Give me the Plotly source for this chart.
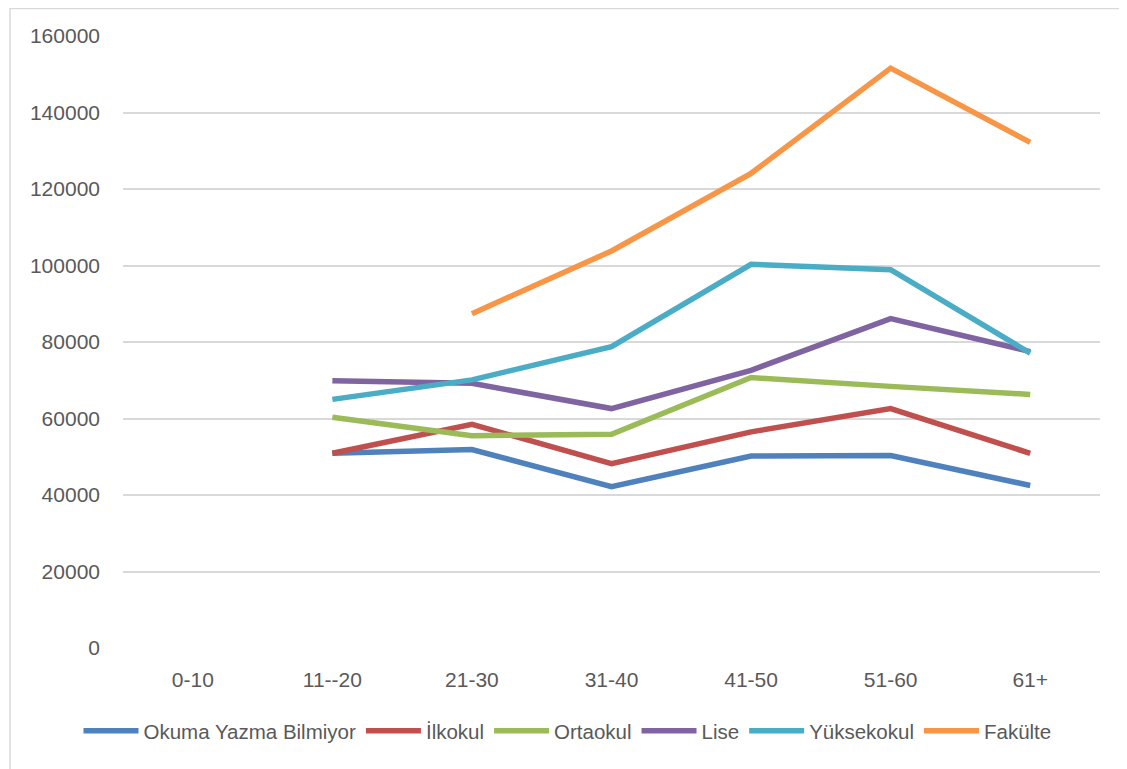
import plotly.graph_objects as go

age_groups = ["0-10", "11--20", "21-30", "31-40", "41-50", "51-60", "61+"]

okuma_yazma = [None, 50900, 51900, 42200, 50200, 50300, 42500]
ilkokul = [None, 50900, 58500, 48200, 56500, 62600, 50900]
ortaokul = [None, 60300, 55500, 55900, 70700, 68400, 66300]
lise = [None, 69900, 69200, 62600, 72600, 86100, 77500]
yuksekokul = [None, 65000, 70100, 78800, 100300, 98900, 77100]
fakulte = [None, None, 87400, 103800, 124100, 151600, 132200]

series_names = ["Okuma Yazma Bilmiyor", "İlkokul", "Ortaokul", "Lise", "Yüksekokul", "Fakülte"]
series_values = [okuma_yazma, ilkokul, ortaokul, lise, yuksekokul, fakulte]
colors = ["#4F81BD", "#C0504D", "#9BBB59", "#8064A2", "#4BACC6", "#F79646"]

# page has an 8px body margin, so the figure is a bit smaller than the window
W, H = 1119, 761
L, R, T, B = 115, 27, 28, 121
pw, ph = W - L - R, H - T - B

fig = go.Figure()
for name, vals, col in zip(series_names, series_values, colors):
    fig.add_trace(go.Scatter(x=age_groups, y=vals, name=name, mode="lines",
                             line=dict(color=col, width=5.5), connectgaps=False))

font_fam = "Liberation Sans, Arial, sans-serif"
fig.update_layout(
    width=W, height=H,
    margin=dict(l=L, r=R, t=T, b=B),
    paper_bgcolor="white", plot_bgcolor="white",
    font=dict(family=font_fam, size=21, color="#595959"),
    showlegend=True,
    legend=dict(orientation="h", xref="container", x=0.5, xanchor="center",
                yref="container", y=0.05, yanchor="middle",
                font=dict(size=20.5, color="#595959"), itemwidth=55,
                traceorder="normal", bgcolor="rgba(0,0,0,0)"),
    xaxis=dict(type="category", range=[-0.5, 6.5], showgrid=False, zeroline=False,
               showline=False, ticks="", tickfont=dict(size=21), ticklabelstandoff=17),
    yaxis=dict(range=[0, 160000], dtick=20000, showgrid=True, gridcolor="#D9D9D9",
               gridwidth=1.5, zeroline=False, showline=False, ticks="",
               tickformat="d", tickfont=dict(size=21), ticklabelstandoff=22),
    shapes=[dict(type="rect", xref="paper", yref="paper",
                 x0=(2 - L) / pw, x1=(W + 10 - L) / pw,
                 y0=-(B + 10) / ph, y1=(H - B - 0.5) / ph,
                 line=dict(color="#D9D9D9", width=1.5), layer="below")],
)

fig.write_html("out.html")
